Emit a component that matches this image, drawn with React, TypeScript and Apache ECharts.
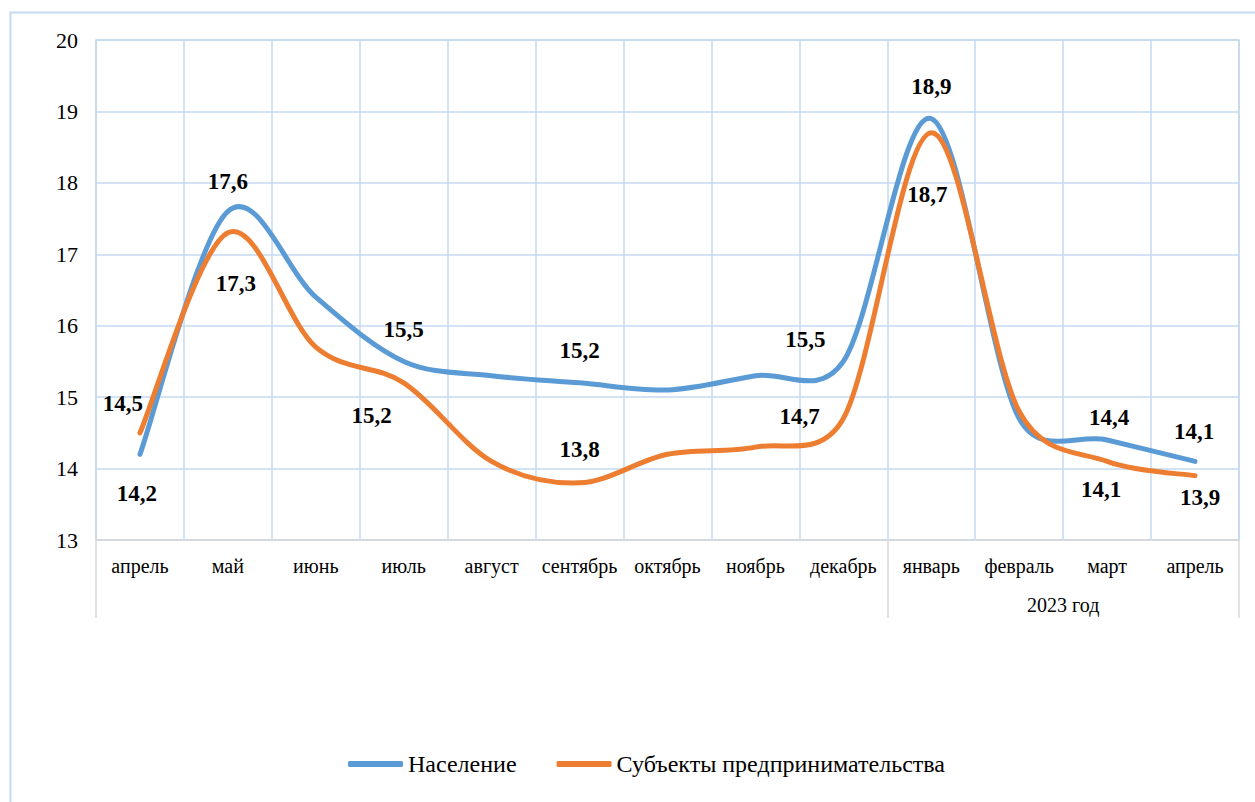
import React, { useEffect, useRef } from "react";
import * as echarts from "echarts";

const months = ["апрель", "май", "июнь", "июль", "август", "сентябрь", "октябрь", "ноябрь", "декабрь", "январь", "февраль", "март", "апрель"];
const yearLabel = "2023 год";
const population = [14.2, 17.6, 16.4, 15.5, 15.3, 15.2, 15.1, 15.3, 15.5, 18.9, 14.7, 14.4, 14.1];
const business = [14.5, 17.3, 15.7, 15.2, 14.1, 13.8, 14.2, 14.3, 14.7, 18.7, 14.8, 14.1, 13.9];
const seriesNames = ["Население", "Субъекты предпринимательства"];
const colors = ["#5b9bd5", "#ed7d31"];

// label placement per index: [position, distance, dx, dy]
const popLabels: Record<number, [string, number, number, number]> = {
  0: ["bottom", 27, -3, 0],
  1: ["top", 18, 0, 0],
  3: ["top", 20, 0, 0],
  5: ["top", 20, 0, 0],
  8: ["top", 10, -38, 0],
  9: ["top", 20, 0, 0],
  11: ["top", 11, 2, 0],
  12: ["top", 18, -1, 0],
};
const busLabels: Record<number, [string, number, number, number]> = {
  0: ["top", 17, -17, 0],
  1: ["bottom", 39, 8, 0],
  3: ["bottom", 21, -32, 0],
  5: ["top", 21, 0, 0],
  8: ["left", 23, 0, -2],
  9: ["bottom", 50, -4, 0],
  11: ["bottom", 16, -6, 0],
  12: ["bottom", 10, 5, 0],
};

const FONT = "Liberation Serif";
const GRID = "#c5d9f1";

function buildData(values: number[], labels: Record<number, [string, number, number, number]>) {
  return values.map((v, i) => {
    const l = labels[i];
    if (!l) return { value: v };
    return {
      value: v,
      label: {
        show: true,
        position: l[0],
        distance: l[1],
        offset: [l[2], l[3]],
      },
    };
  });
}

// Excel-like smoothed curve (Catmull-Rom, arms clamped to half segment)
function smoothPath(pts: number[][]) {
  const n = pts.length;
  const arm = (a: number[], b: number[], segLen: number) => {
    let tx = (b[0] - a[0]) / 6;
    let ty = (b[1] - a[1]) / 6;
    const len = Math.hypot(tx, ty);
    const maxLen = segLen / 2;
    if (len > maxLen && len > 0) {
      tx *= maxLen / len;
      ty *= maxLen / len;
    }
    return [tx, ty];
  };
  let d = `M${pts[0][0]},${pts[0][1]}`;
  for (let i = 0; i < n - 1; i++) {
    const p0 = pts[Math.max(0, i - 1)];
    const p1 = pts[i];
    const p2 = pts[i + 1];
    const p3 = pts[Math.min(n - 1, i + 2)];
    const seg = Math.hypot(p2[0] - p1[0], p2[1] - p1[1]);
    const t1 = arm(p0, p2, seg);
    const t2 = arm(p1, p3, seg);
    d += ` C${p1[0] + t1[0]},${p1[1] + t1[1]} ${p2[0] - t2[0]},${p2[1] - t2[1]} ${p2[0]},${p2[1]}`;
  }
  return d;
}

function curveSeries(name: string, values: number[], color: string, z: number) {
  return {
    name,
    type: "custom",
    xAxisIndex: 0,
    yAxisIndex: 0,
    data: [[0, values[0]]],
    itemStyle: { color },
    z,
    silent: true,
    renderItem: (_params: any, api: any) => {
      const pts = values.map((v, i) => api.coord([i, v]));
      return {
        type: "path",
        shape: { pathData: smoothPath(pts) },
        style: { fill: "none", stroke: color, lineWidth: 5, lineCap: "round", lineJoin: "round" },
      };
    },
  };
}

export default function App() {
  const ref = useRef<HTMLDivElement>(null);
  useEffect(() => {
    document.body.style.margin = "0";
    if (!ref.current) return;
    const chart = echarts.init(ref.current, undefined, { renderer: "svg" });
    const labelStyle = {
      show: false,
      fontFamily: FONT,
      fontSize: 23,
      fontWeight: "bold",
      color: "#000",
      formatter: (p: any) => Number(p.value).toFixed(1).replace(".", ","),
    };
    const labelSeries = (name: string, values: number[], labels: any, color: string, z: number) => ({
      name,
      type: "line",
      xAxisIndex: 0,
      data: buildData(values, labels),
      symbol: "circle",
      symbolSize: 1,
      showSymbol: true,
      lineStyle: { color, width: 0, opacity: 0 },
      itemStyle: { color },
      label: labelStyle,
      z,
      silent: true,
    });
    chart.setOption({
      animation: false,
      backgroundColor: "#fff",
      textStyle: { fontFamily: FONT },
      graphic: [
        {
          type: "rect",
          left: 8,
          top: 10,
          shape: { width: 1300, height: 830 },
          style: { fill: "none", stroke: GRID, lineWidth: 2 },
          silent: true,
        },
      ],
      grid: {
        left: 96,
        top: 40,
        right: 16,
        bottom: 262,
        show: true,
        borderColor: GRID,
        borderWidth: 1.5,
      },
      legend: {
        left: 343,
        top: 747,
        itemWidth: 55,
        itemHeight: 6,
        itemGap: 40,
        icon: "roundRect",
        textStyle: { fontFamily: FONT, fontSize: 24, color: "#000" },
        data: seriesNames.map((n, i) => ({ name: n, itemStyle: { color: colors[i], opacity: 1 } })),
      },
      xAxis: [
        {
          type: "category",
          data: months,
          boundaryGap: true,
          axisLine: { show: true, lineStyle: { color: "#d9d9d9", width: 1.5 } },
          axisTick: { show: false },
          axisLabel: { fontFamily: FONT, fontSize: 20, color: "#000", margin: 16, interval: 0 },
          splitLine: { show: true, lineStyle: { color: GRID, width: 1.5 } },
        },
        {
          type: "value",
          min: 0,
          max: months.length,
          position: "bottom",
          axisLine: { show: false },
          splitLine: { show: false },
          axisTick: {
            show: true,
            customValues: [0, 9, months.length],
            length: 78,
            lineStyle: { color: "#d9d9d9", width: 1.5 },
          },
          axisLabel: {
            customValues: [11],
            formatter: () => yearLabel,
            fontFamily: FONT,
            fontSize: 20,
            color: "#000",
            margin: 55,
          },
        },
      ],
      yAxis: {
        type: "value",
        min: 13,
        max: 20,
        interval: 1,
        axisLine: { show: false },
        axisTick: { show: false },
        axisLabel: { fontFamily: FONT, fontSize: 22, color: "#000", margin: 18 },
        splitLine: { show: true, lineStyle: { color: GRID, width: 1.5 } },
      },
      series: [
        curveSeries(seriesNames[0], population, colors[0], 3),
        curveSeries(seriesNames[1], business, colors[1], 4),
        labelSeries(seriesNames[0], population, popLabels, colors[0], 5),
        labelSeries(seriesNames[1], business, busLabels, colors[1], 6),
      ],
    });
    return () => chart.dispose();
  }, []);
  return <div ref={ref} style={{ width: 1255, height: 802 }} />;
}
